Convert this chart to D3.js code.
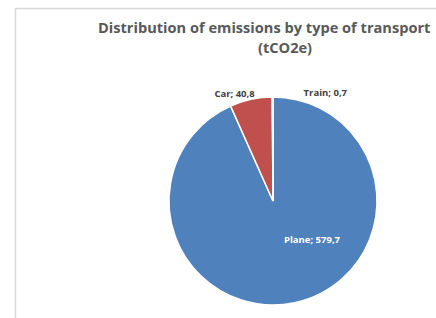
<!DOCTYPE html>
<html>
<head>
<meta charset="utf-8">
<script src="https://cdn.jsdelivr.net/npm/d3@7"></script>
<style>
  body { margin: 0; background: #fff; }
  text { font-family: "Open Sans", sans-serif; }
</style>
</head>
<body>
<div id="chart"></div>
<script>
// data
const categories = ["Plane", "Car", "Train"];
const values = [579.7, 40.8, 0.7];
const colors = ["#4F81BD", "#C0504D", "#9BBB59"];
const titleLines = ["Distribution of emissions by type of transport", "(tCO2e)"];

const width = 436, height = 318;
const cx = 273, cy = 201, radius = 104;

const svg = d3.select("#chart").append("svg")
    .attr("width", width)
    .attr("height", height);

// chart frame (only left and top edges visible)
svg.append("path")
    .attr("d", `M15.5,${height} V8.5 H${width}`)
    .attr("fill", "none")
    .attr("stroke", "#d9d9d9")
    .attr("stroke-width", 1.5);

// title - first line runs right up to the edge, so anchor it from the left
svg.append("text")
    .attr("x", 98)
    .attr("y", 33)
    .attr("fill", "#595959")
    .style("font-size", "14.6px")
    .style("font-weight", "bold")
    .text(titleLines[0]);
svg.append("text")
    .attr("x", 285)
    .attr("y", 53)
    .attr("text-anchor", "middle")
    .attr("fill", "#595959")
    .style("font-size", "14.6px")
    .style("font-weight", "bold")
    .text(titleLines[1]);

const data = categories.map((c, i) => ({ name: c, value: values[i], color: colors[i] }));

const pie = d3.pie().sort(null).value(d => d.value);
const arcs = pie(data);
const arc = d3.arc().innerRadius(0).outerRadius(radius);

const g = svg.append("g").attr("transform", `translate(${cx},${cy})`);

g.selectAll("path")
    .data(arcs)
    .enter().append("path")
    .attr("d", arc)
    .attr("fill", d => d.data.color)
    .attr("stroke", "#fff")
    .attr("stroke-width", 1.5);

const fmt = v => d3.format(".1f")(v).replace(".", ",");

// labels: Plane inside, others outside end
const outer = d3.arc().innerRadius(radius + 6).outerRadius(radius + 6);

g.selectAll("text.lbl")
    .data(arcs)
    .enter().append("text")
    .attr("class", "lbl")
    .style("font-size", "9.5px")
    .style("font-weight", "bold")
    .attr("fill", d => d.data.name === "Plane" ? "#fff" : "#404040")
    .attr("text-anchor", d => d.data.name === "Car" ? "end" : (d.data.name === "Plane" ? "middle" : "start"))
    .attr("transform", d => {
        if (d.data.name === "Plane") {
            // best-fit placement inside the big slice
            return `translate(${radius * 0.375},${radius * 0.4})`;
        }
        const p = outer.centroid(d);
        if (d.data.name === "Train") return `translate(${p[0] + 31},${p[1] + 5})`;
        return `translate(${p[0] + 5},${p[1] + 4})`;
    })
    .text(d => `${d.data.name}; ${fmt(d.data.value)}`);
</script>
</body>
</html>
